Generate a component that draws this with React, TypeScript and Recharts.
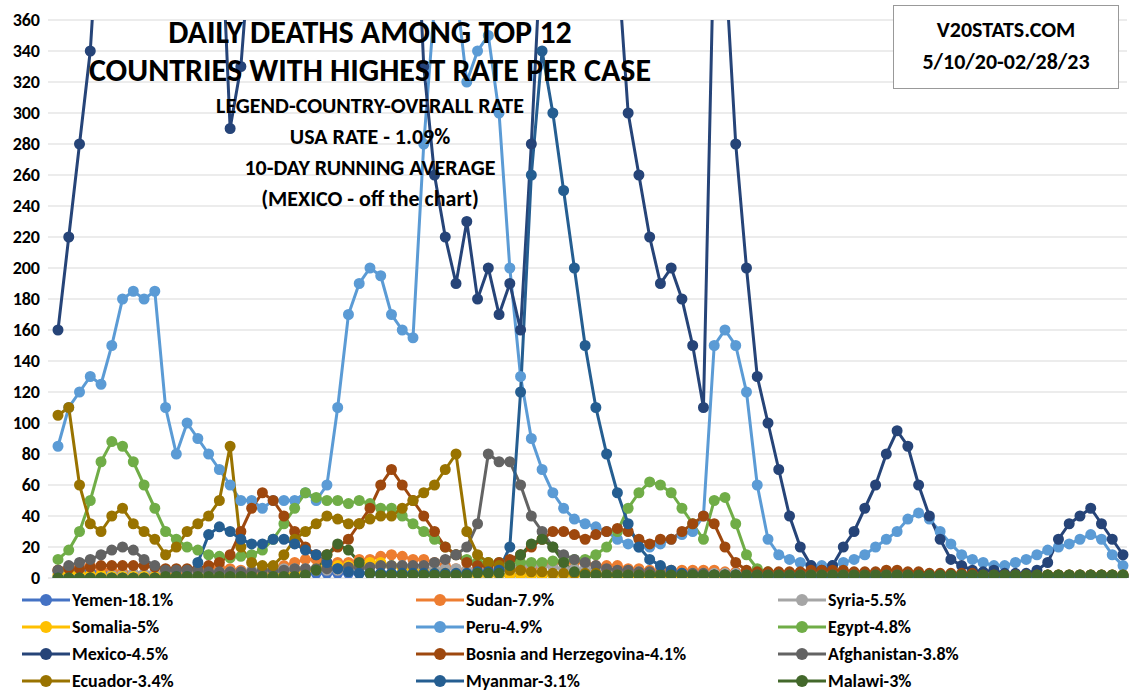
import { LineChart, Line, XAxis, YAxis, CartesianGrid } from 'recharts';

// ~weekly samples, 5/10/20 - 2/28/23
const yemen = [4,5,5,4,4,3,3,3,2,2,2,2,2,2,2,2,2,2,2,2,3,3,3,3,3,3,3,3,3,3,3,3,3,3,3,3,3,3,3,2,2,2,2,2,2,2,2,2,2,2,2,2,2,2,2,2,2,2,2,2,1,1,1,1,1,1,1,1,1,1,1,1,1,1,1,1,1,1,1,1,1,1,1,1,1,1,1,1,1,1,1,1,1,1,1,1,1,1,1,1];
const sudan = [5,6,7,8,6,5,4,3,2,2,2,3,4,5,6,7,6,5,4,4,6,8,10,12,12,10,10,10,12,12,14,15,14,12,12,10,8,6,5,5,5,5,5,6,6,8,10,10,10,10,8,8,8,6,6,5,5,5,5,5,5,5,4,4,4,3,3,3,3,3,3,3,3,3,3,3,3,3,3,3,2,2,2,2,2,2,2,2,2,2,2,2,2,2,2,2,2,2,2,2];
const syria = [1,1,1,1,1,2,2,3,3,4,5,5,5,4,4,4,4,4,5,5,6,6,6,6,5,5,5,5,6,8,8,8,8,7,6,6,6,6,5,5,5,5,6,8,8,8,7,6,6,6,5,5,4,4,4,3,3,3,3,3,3,3,3,3,2,2,2,2,2,2,2,2,2,2,2,2,2,2,2,2,1,1,1,1,1,1,1,1,1,1,1,1,1,1,1,1,1,1,1,1];
const somalia = [2,3,3,2,2,1,1,1,1,1,1,1,1,1,1,1,1,1,1,1,2,2,3,5,6,8,8,8,8,10,10,8,6,5,4,3,3,2,2,2,2,2,2,2,2,2,2,2,2,2,2,2,1,1,1,1,1,1,1,1,1,1,1,1,1,1,1,1,1,1,1,1,1,1,1,1,1,1,1,1,1,1,1,1,1,1,1,1,1,1,1,1,1,1,1,1,1,1,1,1];
const peru = [85,110,120,130,125,150,180,185,180,185,110,80,100,90,80,70,60,50,50,45,50,50,50,55,50,60,110,170,190,200,195,170,160,155,280,370,400,380,320,340,350,300,200,130,90,70,55,45,38,35,33,30,25,22,20,20,22,25,28,30,40,150,160,150,120,60,25,15,12,10,8,8,8,10,12,15,20,25,30,38,42,38,30,22,15,12,10,8,8,10,12,15,18,20,22,25,28,25,15,8];
const egypt = [12,18,30,50,75,88,85,75,60,45,30,25,20,18,15,14,13,14,15,18,25,35,45,55,52,50,50,48,50,48,45,45,40,35,30,25,20,15,12,10,10,10,10,10,10,10,11,11,12,12,15,20,30,45,55,62,60,55,45,35,25,50,52,35,15,6,4,3,3,3,3,2,2,2,2,2,2,2,2,2,2,2,2,2,2,2,2,2,2,2,2,2,2,2,2,2,2,2,2,2];
const mexico = [160,220,280,340,450,520,560,600,620,600,580,560,540,520,500,450,290,330,420,500,560,600,640,680,700,700,720,750,780,800,760,700,600,480,330,260,220,190,230,180,200,170,190,160,280,420,600,800,900,850,700,550,400,300,260,220,190,200,180,150,110,420,400,280,200,130,100,70,40,20,8,5,8,20,30,45,60,80,95,85,60,40,25,12,8,5,4,5,3,3,3,5,10,25,35,40,45,35,25,15];
const bosnia = [5,6,6,7,8,8,8,8,8,7,6,6,6,6,8,10,15,30,45,55,50,40,30,20,15,15,20,25,35,45,60,70,60,50,40,30,20,15,10,8,8,10,12,15,20,25,30,30,28,25,28,30,32,30,25,22,25,25,30,35,40,35,20,10,5,4,4,4,4,4,5,5,5,5,4,4,4,5,5,4,4,3,3,3,3,3,2,2,2,2,2,2,2,2,2,2,2,2,2,2];
const afghanistan = [5,8,10,12,15,18,20,18,12,8,5,5,5,5,4,4,4,4,4,5,5,5,6,6,6,6,6,7,7,7,8,8,8,8,8,10,12,15,20,35,80,75,75,60,40,30,20,15,12,10,8,6,5,5,4,4,3,3,3,3,3,2,2,2,2,2,2,2,2,2,2,2,2,2,2,2,2,2,2,2,1,1,1,1,1,1,1,1,1,1,1,1,1,1,1,1,1,1,1,1];
const ecuador = [105,110,60,35,30,40,45,35,30,25,15,20,30,35,40,50,85,20,10,8,8,15,25,30,35,40,38,35,35,38,40,40,45,50,55,60,70,80,30,15,10,8,5,5,4,4,3,3,3,3,3,2,2,2,2,2,2,2,2,2,2,2,2,1,1,1,1,1,1,1,1,1,1,1,1,1,1,1,1,1,1,1,1,1,1,1,1,1,1,1,1,1,1,1,1,1,1,1,1,1];
const myanmar = [0,0,0,0,0,0,0,0,0,0,0,1,1,10,28,33,30,25,22,22,25,25,22,18,15,10,6,4,3,3,3,3,3,3,3,3,3,3,3,4,4,5,20,120,260,340,300,250,200,150,110,80,55,35,20,12,8,5,3,2,2,2,2,2,1,1,1,1,1,1,1,1,1,1,1,1,1,1,1,1,1,1,1,1,1,1,1,1,1,1,1,1,1,1,1,1,1,1,1,1];
const malawi = [0,0,0,0,0,0,0,0,0,0,1,1,1,1,1,1,1,1,1,1,1,1,1,2,5,15,22,18,10,3,2,2,2,2,2,2,2,2,2,3,3,3,8,15,22,25,20,10,4,2,2,2,2,2,2,2,2,2,2,2,2,2,2,2,2,2,2,2,2,2,2,2,2,2,2,2,2,2,2,2,2,2,2,2,2,2,2,2,2,2,2,2,2,2,2,2,2,2,2,2];

const yTicks = [0,20,40,60,80,100,120,140,160,180,200,220,240,260,280,300,320,340,360];

const series = [
  { key: 'yemen', name: 'Yemen-18.1%', color: '#4472c4', values: yemen },
  { key: 'sudan', name: 'Sudan-7.9%', color: '#ed7d31', values: sudan },
  { key: 'syria', name: 'Syria-5.5%', color: '#a5a5a5', values: syria },
  { key: 'somalia', name: 'Somalia-5%', color: '#ffc000', values: somalia },
  { key: 'peru', name: 'Peru-4.9%', color: '#5b9bd5', values: peru },
  { key: 'egypt', name: 'Egypt-4.8%', color: '#70ad47', values: egypt },
  { key: 'mexico', name: 'Mexico-4.5%', color: '#264478', values: mexico },
  { key: 'bosnia', name: 'Bosnia and Herzegovina-4.1%', color: '#9e480e', values: bosnia },
  { key: 'afghanistan', name: 'Afghanistan-3.8%', color: '#636363', values: afghanistan },
  { key: 'ecuador', name: 'Ecuador-3.4%', color: '#997300', values: ecuador },
  { key: 'myanmar', name: 'Myanmar-3.1%', color: '#255e91', values: myanmar },
  { key: 'malawi', name: 'Malawi-3%', color: '#43682b', values: malawi },
];

const data = peru.map((_, i) => {
  const row: Record<string, number> = { i };
  series.forEach((s) => { row[s.key] = s.values[i]; });
  return row;
});

const font = 'Carlito, Calibri, Lato, "Liberation Sans", Arial, sans-serif';

export default function App() {
  return (
    <div style={{ position: 'absolute', left: 0, top: 0, width: 1131, height: 693, background: '#fff', fontFamily: font, overflow: 'hidden' }}>
      <LineChart width={1131} height={590} data={data} margin={{ top: 20, right: 4, left: 0, bottom: 12 }}>
        <CartesianGrid vertical={false} stroke="#d9d9d9" />
        <XAxis dataKey="i" type="number" domain={[0, 99]} hide padding={{ left: 10, right: 4 }} />
        <YAxis
          domain={[0, 360]}
          ticks={yTicks}
          allowDataOverflow
          interval={0}
          width={48}
          axisLine={false}
          tickLine={false}
          tick={{ fontSize: 18, fontWeight: 700, fill: '#000', fontFamily: font }}
        />
        {series.map((s) => (
          <Line
            key={s.key}
            dataKey={s.key}
            stroke={s.color}
            strokeWidth={3}
            dot={{ r: 4, fill: s.color, stroke: s.color }}
            isAnimationActive={false}
          />
        ))}
      </LineChart>
      <div style={{ position: 'absolute', left: 40, top: 14, width: 660, textAlign: 'center', fontWeight: 700, color: '#000' }}>
        <div style={{ fontSize: 32, lineHeight: '38px' }}>DAILY DEATHS AMONG TOP 12</div>
        <div style={{ fontSize: 32, lineHeight: '38px' }}>COUNTRIES WITH HIGHEST RATE PER CASE</div>
        <div style={{ fontSize: 22, lineHeight: '31px', marginTop: 0 }}>LEGEND-COUNTRY-OVERALL RATE</div>
        <div style={{ fontSize: 22, lineHeight: '31px' }}>USA RATE - 1.09%</div>
        <div style={{ fontSize: 22, lineHeight: '31px' }}>10-DAY RUNNING AVERAGE</div>
        <div style={{ fontSize: 22, lineHeight: '31px' }}>(MEXICO - off the chart)</div>
      </div>
      <div style={{ position: 'absolute', left: 893, top: 5, width: 226, height: 84, background: '#fff', border: '1px solid #999', boxSizing: 'border-box', textAlign: 'center', fontWeight: 700, fontSize: 22, lineHeight: '32px', paddingTop: 8 }}>
        <div>V20STATS.COM</div>
        <div>5/10/20-02/28/23</div>
      </div>
      <div style={{ position: 'absolute', left: 22, top: 586, width: 1100, display: 'grid', gridTemplateColumns: '394px 362px 344px', rowGap: 0 }}>
        {series.map((s) => (
          <div key={s.key} style={{ display: 'flex', alignItems: 'center', height: 27, fontSize: 18, lineHeight: '22px', fontWeight: 700 }}>
            <svg width={48} height={14} style={{ marginRight: 2 }}>
              <line x1={0} y1={7} x2={48} y2={7} stroke={s.color} strokeWidth={3} />
              <circle cx={24} cy={7} r={6} fill={s.color} />
            </svg>
            <span>{s.name}</span>
          </div>
        ))}
      </div>
    </div>
  );
}
